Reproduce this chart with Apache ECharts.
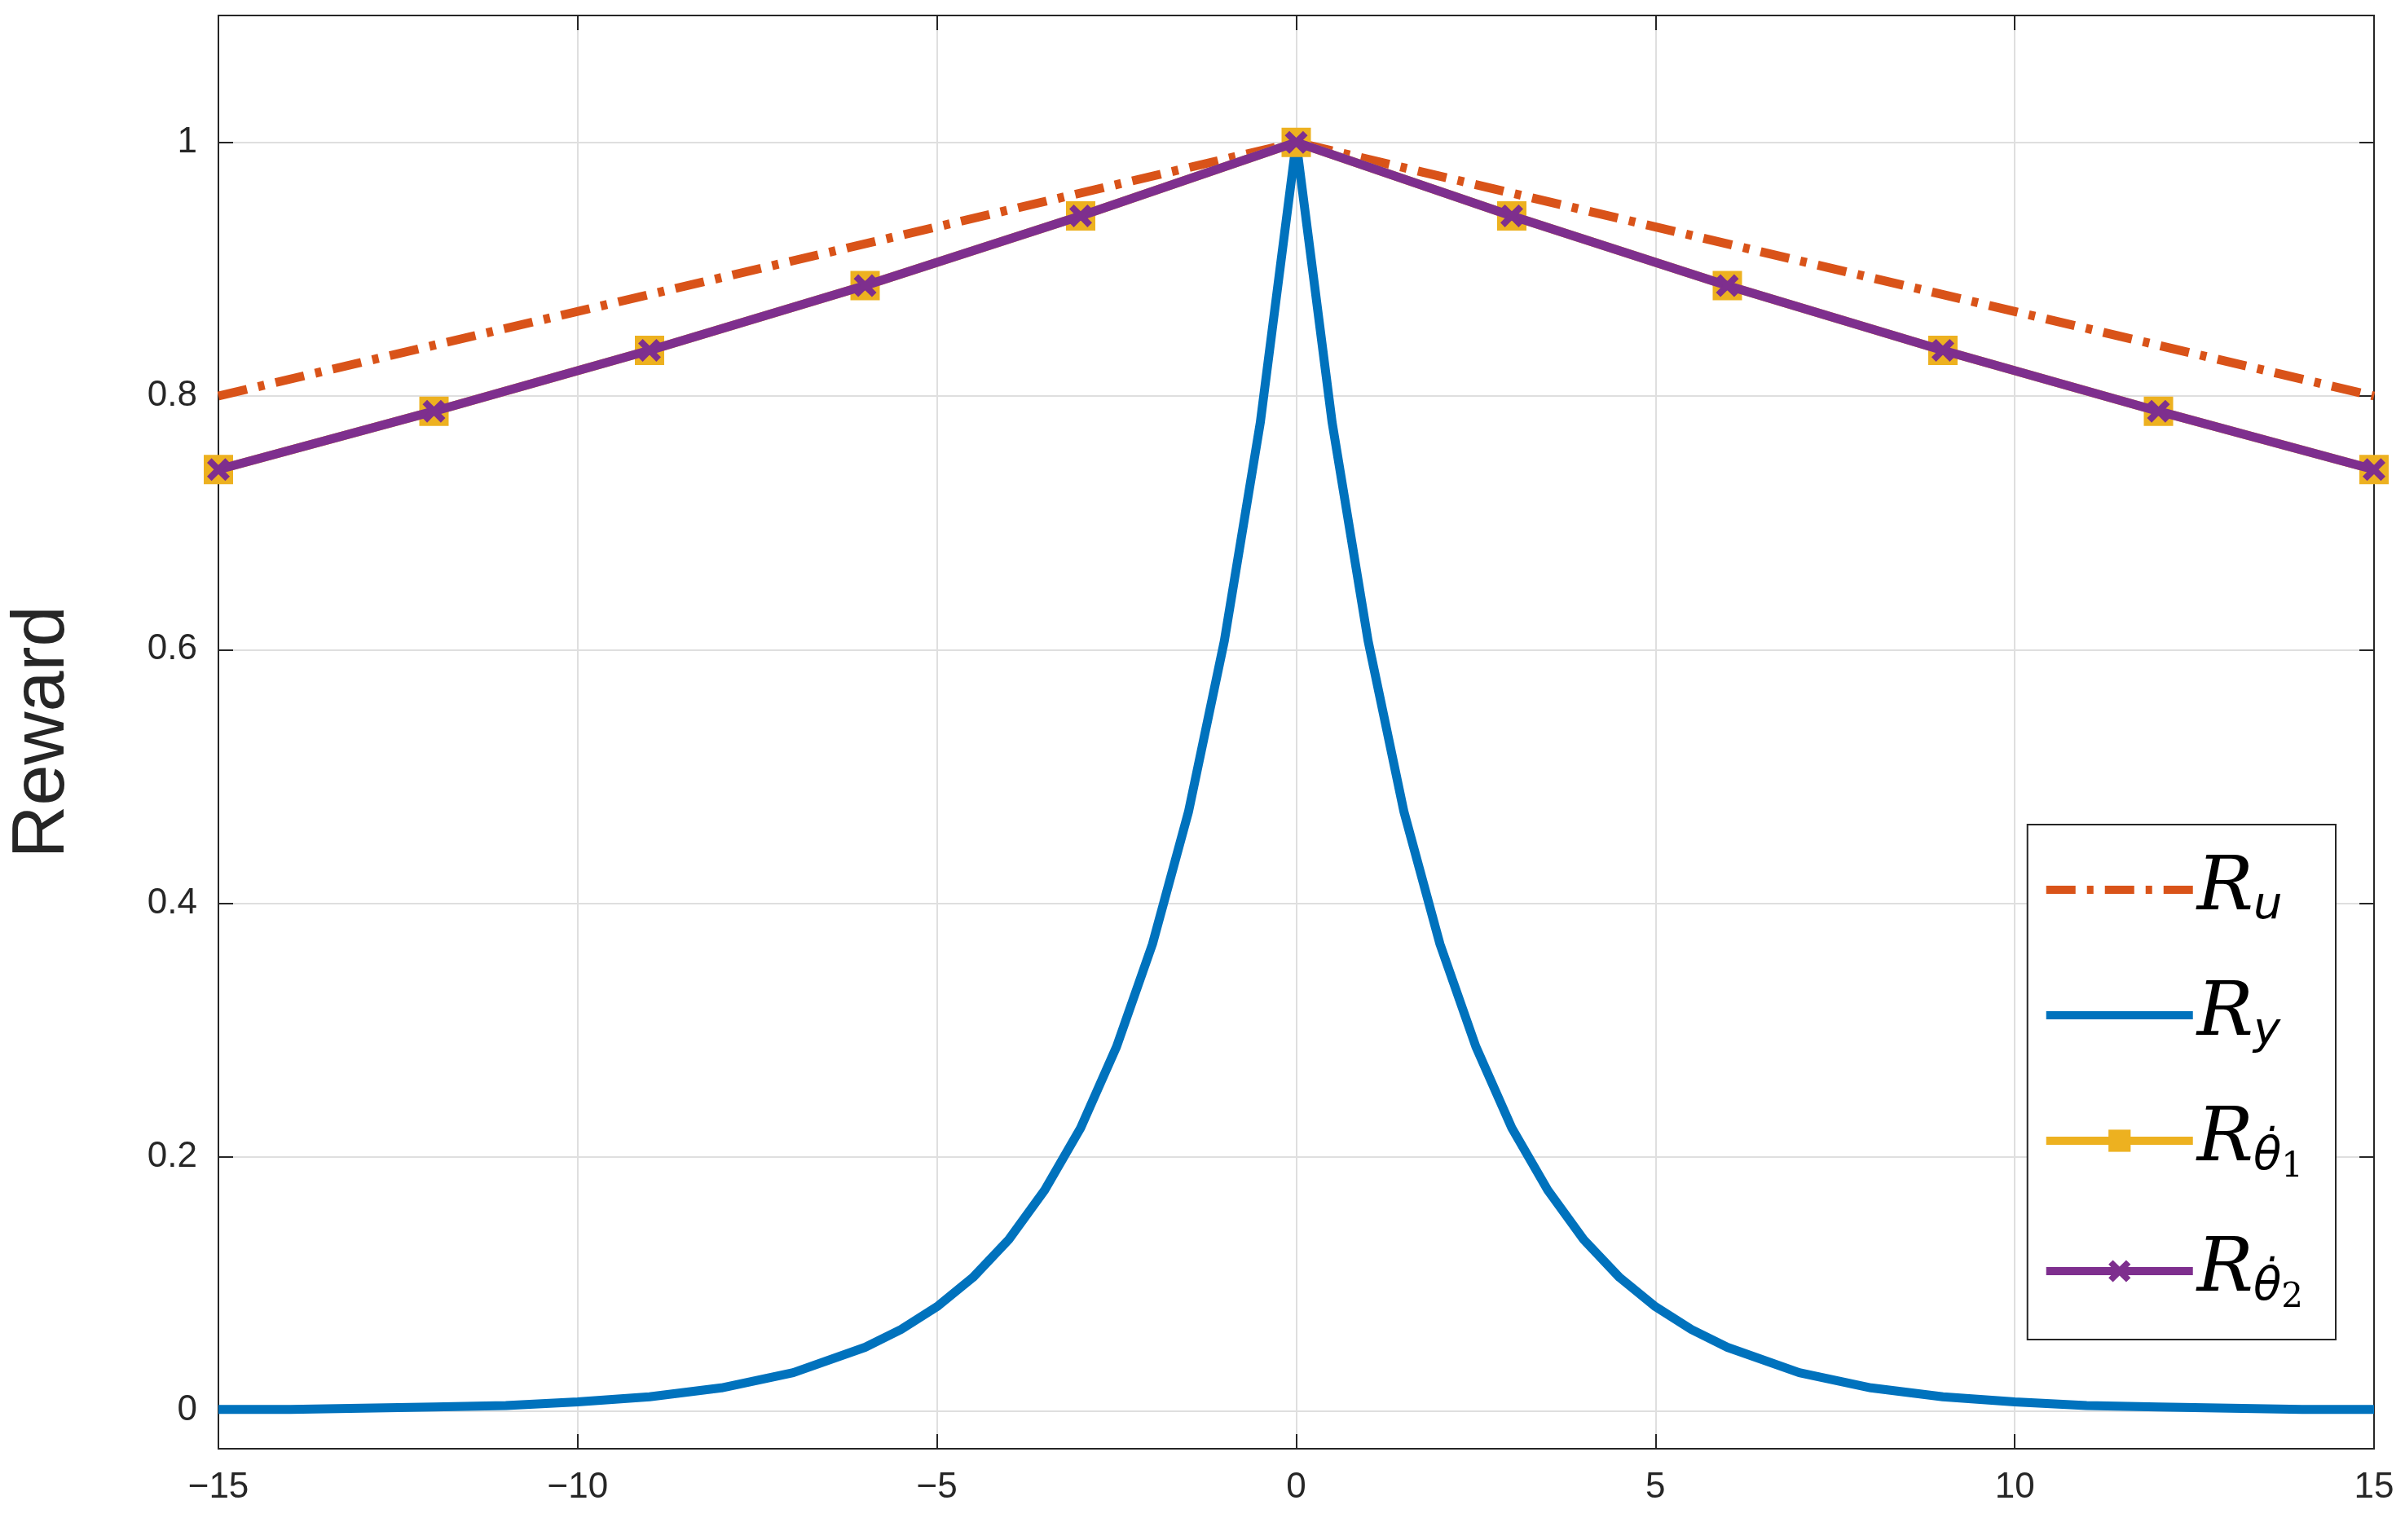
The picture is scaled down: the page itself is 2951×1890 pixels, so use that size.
<!DOCTYPE html>
<html>
<head>
<meta charset="utf-8" />
<script src="https://cdn.jsdelivr.net/npm/echarts@6/dist/echarts.min.js"></script>
<style>html,body{margin:0;padding:0;background:#fff}</style>
</head>
<body>
<div id="chart" style="width:2951px;height:1890px"></div>
<script>
// R_u: straight dash-dot line
var ruX = [-15, 0, 15];
var ruY = [0.8, 1.0, 0.8];
// R_y: sharp peak at zero
var ryX = [-15,-14,-13,-12,-11,-10,-9,-8,-7,-6,-5.5,-5,-4.5,-4,-3.5,-3,-2.5,-2,-1.5,-1,-0.5,0,0.5,1,1.5,2,2.5,3,3.5,4,4.5,5,5.5,6,7,8,9,10,11,12,13,14,15];
var ryY = [0.001,0.001,0.002,0.003,0.004,0.007,0.011,0.018,0.03,0.05,0.064,0.082,0.105,0.135,0.174,0.223,0.287,0.368,0.472,0.607,0.779,1.0,0.779,0.607,0.472,0.368,0.287,0.223,0.174,0.135,0.105,0.082,0.064,0.05,0.03,0.018,0.011,0.007,0.004,0.003,0.002,0.001,0.001];
// R_theta1 and R_theta2 share the same marked points
var thX = [-15,-12,-9,-6,-3,0,3,6,9,12,15];
var thY = [0.742,0.788,0.836,0.887,0.942,1.0,0.942,0.887,0.836,0.788,0.742];
var yTicks = [0, 0.2, 0.4, 0.6, 0.8, 1];

function pairs(xs, ys) { return xs.map(function (x, i) { return [x, ys[i]]; }); }

var font = 'Liberation Sans';
var names = {
  Ru: '{r|R}{s|u}',
  Ry: '{r|R}{s|y}',
  T1: '{r|R}{s|θ̇}{ss|1}',
  T2: '{r|R}{s|θ̇}{ss|2}'
};
var axisCommon = {
  axisLine: { onZero: false, lineStyle: { color: '#262626', width: 2 } },
  axisTick: { inside: true, length: 18, lineStyle: { color: '#262626', width: 2 } }
};
function yAxisDef(extra) {
  return Object.assign({
    type: 'value', min: -0.03, max: 1.1,
    axisLine: axisCommon.axisLine,
    axisTick: { inside: true, length: 18, customValues: yTicks, lineStyle: { color: '#262626', width: 2 } }
  }, extra);
}

var option = {
  animation: false,
  backgroundColor: '#fff',
  grid: { left: 255, right: 38, top: 19, bottom: 112, show: true, borderColor: '#262626', borderWidth: 2 },
  xAxis: [Object.assign({
    type: 'value', min: -15, max: 15, interval: 5,
    axisLabel: { fontFamily: font, fontSize: 44, color: '#262626', margin: 26,
      formatter: function (v) { return String(v).replace('-', '−'); } },
    splitLine: { lineStyle: { color: '#dfdfdf', width: 2 } }
  }, axisCommon), Object.assign({
    type: 'value', min: -15, max: 15, interval: 5, position: 'top',
    axisLabel: { show: false }, splitLine: { show: false }
  }, axisCommon)],
  yAxis: [yAxisDef({
    name: 'Reward', nameLocation: 'middle', nameGap: 170,
    nameTextStyle: { fontFamily: font, fontSize: 90, color: '#262626' },
    axisLabel: { fontFamily: font, fontSize: 44, color: '#262626', margin: 26, customValues: yTicks },
    splitLine: { lineStyle: { color: '#dfdfdf', width: 2 } }
  }), yAxisDef({
    position: 'right', axisLabel: { show: false }, splitLine: { show: false }
  })],
  legend: {
    orient: 'vertical', right: 85, top: 1012,
    itemWidth: 180, itemHeight: 34, itemGap: 60,
    padding: [34, 40, 30, 18],
    borderColor: '#262626', borderWidth: 2, backgroundColor: '#fff',
    lineStyle: { width: 10 },
    data: [
      { name: 'Ru', itemStyle: { opacity: 0 } },
      { name: 'Ry', itemStyle: { opacity: 0 } },
      { name: 'T1' },
      { name: 'T2' }
    ],
    formatter: function (n) { return names[n]; },
    textStyle: {
      rich: {
        r: { fontFamily: 'DejaVu Serif', fontStyle: 'italic', fontSize: 92, color: '#000' },
        s: { fontFamily: 'DejaVu Sans', fontStyle: 'italic', fontSize: 56, color: '#000', padding: [40, 0, 0, 0] },
        ss: { fontFamily: 'DejaVu Serif', fontSize: 42, color: '#000', padding: [66, 0, 0, 0] }
      }
    }
  },
  series: [{
    name: 'Ru', type: 'line', data: pairs(ruX, ruY), symbol: 'none',
    lineStyle: { color: '#d95319', width: 11, type: [36, 14, 8, 14] },
    itemStyle: { color: '#d95319' }, z: 3
  }, {
    name: 'Ry', type: 'line', data: pairs(ryX, ryY), symbol: 'none',
    lineStyle: { color: '#0072bd', width: 11 }, itemStyle: { color: '#0072bd' }, z: 2
  }, {
    name: 'T1', type: 'line', data: pairs(thX, thY), symbol: 'rect', symbolSize: 36,
    lineStyle: { color: '#edb120', width: 11 }, itemStyle: { color: '#edb120' }, z: 4
  }, {
    name: 'T2', type: 'line', data: pairs(thX, thY),
    symbol: 'path://M-3,-5 L0,-2 L3,-5 L5,-3 L2,0 L5,3 L3,5 L0,2 L-3,5 L-5,3 L-2,0 L-5,-3 Z', symbolSize: 28,
    lineStyle: { color: '#7e2f8e', width: 11 }, itemStyle: { color: '#7e2f8e' }, z: 5
  }]
};

var chart = echarts.init(document.getElementById('chart'));
chart.setOption(option);
</script>
</body>
</html>
